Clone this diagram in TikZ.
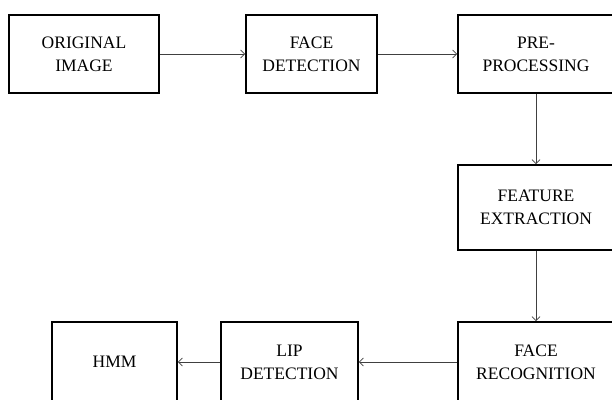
\documentclass[tikz,border=0pt]{standalone}
\usepackage{fontspec}
\setmainfont{Liberation Serif}
\usetikzlibrary{arrows.meta}

\begin{document}
\begin{tikzpicture}[x=1pt, y=-1pt,
      stage/.style={rectangle, draw=black, line width=1.6pt,
                    minimum height=78pt, inner sep=0pt, align=center,
                    font=\fontsize{17.5}{23}\selectfont},
      flow/.style={-{Straight Barb[length=4pt, width=8pt]},
                   line width=0.8pt, draw=black!75}
    ]
    \clip (0,0) rectangle (612,399);

    % Top row
    \node[stage, minimum width=150pt] (orig)    at (84,54)    {ORIGINAL\\IMAGE};
    \node[stage, minimum width=131pt] (facedet) at (311.5,54) {FACE\\DETECTION};
    \node[stage, minimum width=156pt] (prep)    at (536,54)   {PRE-\\PROCESSING};

    % Right column
    \node[stage, minimum width=156pt, minimum height=85pt] (feat) at (536,207.5)
        {FEATURE\\EXTRACTION};

    % Bottom row
    \node[stage, minimum width=156pt, minimum height=80pt] (facerec) at (536,362)
        {FACE\\RECOGNITION};
    \node[stage, minimum width=137pt, minimum height=80pt] (lip) at (289.5,362)
        {LIP\\DETECTION};
    \node[stage, minimum width=125pt, minimum height=80pt] (hmm) at (114.5,362)
        {HMM};

    % Arrows
    \draw[flow] (orig) -- (facedet);
    \draw[flow] (facedet) -- (prep);
    \draw[flow] (prep) -- (feat);
    \draw[flow] (feat) -- (facerec);
    \draw[flow] (facerec) -- (lip);
    \draw[flow] (lip) -- (hmm);
\end{tikzpicture}
\end{document}
